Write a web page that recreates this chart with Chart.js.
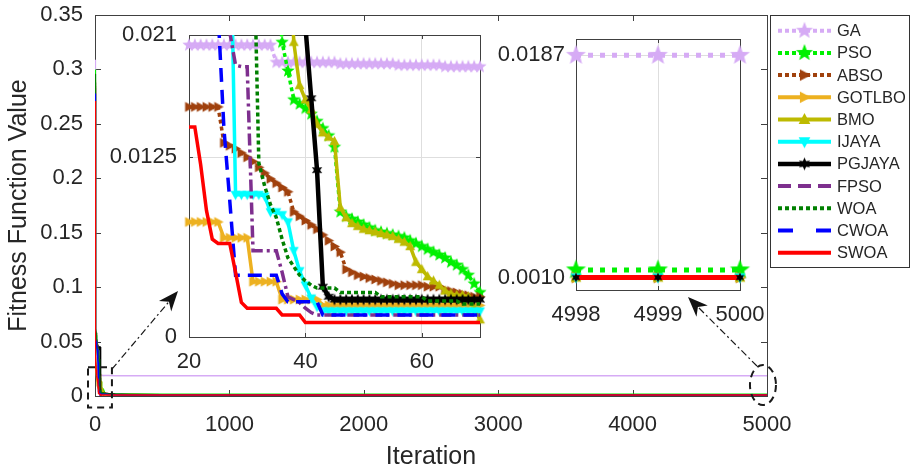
<!DOCTYPE html>
<html>
<head>
<meta charset="utf-8">
<title>Convergence curves</title>
<script src="https://cdn.jsdelivr.net/npm/chart.js@4.4.1/dist/chart.umd.min.js"></script>
<style>
  html, body { margin: 0; padding: 0; background: #fff; }
  #wrap { position: relative; width: 912px; height: 472px; overflow: hidden; }
  #wrap canvas { position: absolute; }
  #mainChart { left: 0; top: 0; }
  #zoomStart { left: 100px; top: 20px; }
  #zoomEnd { left: 480px; top: 25px; }
</style>
</head>
<body>
<div id="wrap">
  <canvas id="mainChart" width="912" height="472"></canvas>
  <canvas id="zoomStart" width="400" height="370"></canvas>
  <canvas id="zoomEnd" width="300" height="320"></canvas>
</div>
<script>
/* ---------------------------------------------------
    Convergence curves: fitness vs iteration
---------------------------------------------------*/
const FONT = "'Liberation Sans', Arial, Helvetica, sans-serif";
const INK = '#262626';

const iterations = [0, 1, 2, 3, 5, 8, 12, 16,
  20, 21, 22, 23, 24, 25, 26, 27, 28, 29,
  30, 31, 32, 33, 34, 35, 36, 37, 38, 39,
  40, 41, 42, 43, 44, 45, 46, 47, 48, 49,
  50, 51, 52, 53, 54, 55, 56, 57, 58, 59,
  60, 61, 62, 63, 64, 65, 66, 67, 68, 69,
  70, 80, 100, 150, 250, 500, 1000, 2000, 4998, 4999, 5000];

const seriesNames = ['GA', 'PSO', 'ABSO', 'GOTLBO', 'BMO', 'IJAYA', 'PGJAYA', 'FPSO', 'WOA', 'CWOA', 'SWOA'];

const gaFit = [0.309, 0.21, 0.12, 0.075, 0.05, 0.036, 0.027, 0.022,
  0.0203, 0.0203, 0.0203, 0.0203, 0.0203, 0.0203, 0.0203, 0.0203, 0.0203, 0.0203,
  0.0203, 0.0203, 0.0203, 0.0203, 0.0203, 0.0191, 0.0191, 0.0191, 0.0191, 0.0191,
  0.0191, 0.0191, 0.0191, 0.0191, 0.0191, 0.0191, 0.0190, 0.0190, 0.0190, 0.0190,
  0.0190, 0.0190, 0.0190, 0.0190, 0.0190, 0.0190, 0.0189, 0.0189, 0.0189, 0.0189,
  0.0189, 0.0189, 0.0189, 0.0189, 0.0188, 0.0188, 0.0188, 0.0188, 0.0188, 0.0188,
  0.0188, 0.0188, 0.0188, 0.0187, 0.0187, 0.0187, 0.0187, 0.0187, 0.0187, 0.0187, 0.0187];

const psoFit = [0.300, 0.19, 0.11, 0.07, 0.055, 0.05, 0.045, 0.04,
  0.038, 0.037, 0.036, 0.035, 0.034, 0.033, 0.032, 0.031, 0.030, 0.030,
  0.029, 0.029, 0.028, 0.028, 0.027, 0.026, 0.0205, 0.0185, 0.0165, 0.0162,
  0.0159, 0.0155, 0.0150, 0.0145, 0.0140, 0.0132, 0.0087, 0.0084, 0.0082, 0.0080,
  0.0078, 0.0076, 0.0074, 0.0073, 0.0072, 0.0071, 0.0070, 0.0069, 0.0067, 0.0065,
  0.0063, 0.0061, 0.0059, 0.0057, 0.0055, 0.0052, 0.0050, 0.0047, 0.0043, 0.0037,
  0.0031, 0.0024, 0.0021, 0.0019, 0.0018, 0.0017, 0.0016, 0.0016, 0.0016, 0.0016, 0.0016];

const absoFit = [0.285, 0.17, 0.09, 0.055, 0.038, 0.028, 0.021, 0.018,
  0.0160, 0.0160, 0.0160, 0.0160, 0.0160, 0.0160, 0.0135, 0.0133, 0.0131, 0.0128,
  0.0125, 0.0122, 0.0118, 0.0114, 0.0110, 0.0107, 0.0104, 0.0101, 0.0087, 0.0084,
  0.0081, 0.0078, 0.0075, 0.0071, 0.0067, 0.0063, 0.0059, 0.0047, 0.0045, 0.0043,
  0.0042, 0.0041, 0.0040, 0.0039, 0.0038, 0.0037, 0.0036, 0.0036, 0.0036, 0.0036,
  0.0036, 0.0035, 0.0035, 0.0035, 0.0033, 0.0032, 0.0031, 0.0030, 0.0029, 0.0028,
  0.0028, 0.0026, 0.0022, 0.0017, 0.0014, 0.0012, 0.0011, 0.0010, 0.0010, 0.0010, 0.0010];

const gotlboFit = [0.280, 0.16, 0.08, 0.045, 0.030, 0.022, 0.017, 0.0095,
  0.0080, 0.0080, 0.0080, 0.0080, 0.0080, 0.0080, 0.0069, 0.0069, 0.0069, 0.0069,
  0.0069, 0.00385, 0.00385, 0.00385, 0.00385, 0.00385, 0.0026, 0.0026, 0.0026, 0.0026,
  0.0026, 0.0026, 0.0026, 0.0022, 0.0022, 0.0022, 0.0022, 0.0022, 0.0022, 0.0022,
  0.0022, 0.0022, 0.0022, 0.0022, 0.0022, 0.0022, 0.0022, 0.0022, 0.0022, 0.0022,
  0.0022, 0.0022, 0.0022, 0.0022, 0.0022, 0.0022, 0.0022, 0.0022, 0.0022, 0.0022,
  0.0022, 0.0020, 0.0017, 0.0014, 0.0012, 0.0011, 0.0010, 0.0010, 0.0010, 0.0010, 0.0010];

const bmoFit = [0.290, 0.20, 0.12, 0.075, 0.060, 0.056, 0.052, 0.048,
  0.047, 0.046, 0.045, 0.044, 0.043, 0.042, 0.041, 0.040, 0.039, 0.038,
  0.037, 0.036, 0.035, 0.034, 0.033, 0.032, 0.031, 0.030, 0.0205, 0.0175,
  0.0165, 0.0158, 0.0148, 0.0142, 0.0139, 0.0136, 0.0090, 0.0083, 0.0079, 0.0077,
  0.0075, 0.0074, 0.0073, 0.0072, 0.0071, 0.0070, 0.0068, 0.0066, 0.0063, 0.0052,
  0.0047, 0.0042, 0.0039, 0.0036, 0.0032, 0.0030, 0.0029, 0.0029, 0.0028, 0.0020,
  0.0012, 0.0011, 0.0010, 0.0010, 0.0010, 0.0010, 0.0010, 0.0010, 0.0010, 0.0010, 0.0010];

const ijayaFit = [0.275, 0.18, 0.10, 0.065, 0.058, 0.055, 0.050, 0.046,
  0.046, 0.045, 0.044, 0.043, 0.042, 0.040, 0.038, 0.032, 0.0099, 0.0099,
  0.0099, 0.0099, 0.0099, 0.0098, 0.0087, 0.0087, 0.0085, 0.0080, 0.0060, 0.0046,
  0.0036, 0.0027, 0.0021, 0.0018, 0.0018, 0.0018, 0.0018, 0.0018, 0.0018, 0.0018,
  0.0018, 0.0018, 0.0018, 0.0018, 0.0018, 0.0018, 0.0018, 0.0018, 0.0018, 0.0018,
  0.0018, 0.0018, 0.0018, 0.0018, 0.0018, 0.0018, 0.0018, 0.0018, 0.0018, 0.0018,
  0.0018, 0.0017, 0.0015, 0.0013, 0.0011, 0.0010, 0.0010, 0.0010, 0.0010, 0.0010, 0.0010];

const pgjayaFit = [0.288, 0.19, 0.11, 0.07, 0.06, 0.052, 0.048, 0.046,
  0.046, 0.046, 0.046, 0.046, 0.046, 0.046, 0.046, 0.046, 0.046, 0.045,
  0.045, 0.045, 0.045, 0.045, 0.045, 0.045, 0.045, 0.045, 0.045, 0.045,
  0.0216, 0.0166, 0.0116, 0.0035, 0.0028, 0.0026, 0.0026, 0.0026, 0.0026, 0.0026,
  0.0026, 0.0026, 0.0026, 0.0026, 0.0026, 0.0026, 0.0026, 0.0026, 0.0026, 0.0026,
  0.0026, 0.0026, 0.0026, 0.0026, 0.0026, 0.0026, 0.0026, 0.0026, 0.0026, 0.0026,
  0.0026, 0.0024, 0.0020, 0.0015, 0.0012, 0.0011, 0.0010, 0.0010, 0.0010, 0.0010, 0.0010];

const fpsoFit = [0.283, 0.17, 0.095, 0.062, 0.056, 0.052, 0.050, 0.047,
  0.045, 0.044, 0.043, 0.042, 0.041, 0.039, 0.034, 0.0212, 0.0189, 0.0188,
  0.0188, 0.0060, 0.0060, 0.0060, 0.0060, 0.0060, 0.0045, 0.0028, 0.0026, 0.0024,
  0.0020, 0.0017, 0.00153, 0.00153, 0.00153, 0.00153, 0.00153, 0.00153, 0.00153, 0.00153,
  0.00153, 0.00153, 0.00153, 0.00153, 0.00153, 0.00153, 0.00153, 0.00153, 0.00153, 0.00153,
  0.00153, 0.00153, 0.00153, 0.00153, 0.00153, 0.00153, 0.00153, 0.00153, 0.00153, 0.00153,
  0.00153, 0.0015, 0.0013, 0.0012, 0.0011, 0.0010, 0.0010, 0.0010, 0.0010, 0.0010, 0.0010];

const woaFit = [0.296, 0.20, 0.11, 0.07, 0.062, 0.058, 0.052, 0.045,
  0.044, 0.043, 0.042, 0.041, 0.040, 0.039, 0.038, 0.037, 0.036, 0.035,
  0.034, 0.030, 0.0121, 0.0105, 0.0092, 0.0083, 0.0068, 0.0055, 0.0049, 0.0043,
  0.0039, 0.0036, 0.0034, 0.0034, 0.0034, 0.0034, 0.0031, 0.0031, 0.0031, 0.0031,
  0.0031, 0.0031, 0.0031, 0.0028, 0.0028, 0.0028, 0.0028, 0.0028, 0.0028, 0.0028,
  0.0028, 0.0025, 0.0025, 0.0025, 0.0025, 0.0025, 0.0025, 0.0023, 0.0023, 0.0023,
  0.0023, 0.0021, 0.0018, 0.0015, 0.0013, 0.0011, 0.0010, 0.0010, 0.0010, 0.0010, 0.0010];

const cwoaFit = [0.278, 0.16, 0.085, 0.058, 0.052, 0.050, 0.047, 0.043,
  0.040, 0.037, 0.034, 0.031, 0.027, 0.0225, 0.0145, 0.0095, 0.0043, 0.0043,
  0.0043, 0.0043, 0.0043, 0.0043, 0.0043, 0.0043, 0.0030, 0.00245, 0.00245, 0.00245,
  0.00245, 0.00245, 0.00245, 0.00153, 0.00153, 0.00153, 0.00153, 0.00153, 0.00153, 0.00153,
  0.00153, 0.00153, 0.00153, 0.00153, 0.00153, 0.00153, 0.00153, 0.00153, 0.00153, 0.00153,
  0.00153, 0.00153, 0.00153, 0.00153, 0.00153, 0.00153, 0.00153, 0.00153, 0.00153, 0.00153,
  0.00153, 0.0015, 0.0013, 0.0011, 0.0010, 0.0010, 0.0010, 0.0010, 0.0010, 0.0010, 0.0010];

const swoaFit = [0.271, 0.15, 0.08, 0.05, 0.032, 0.024, 0.019, 0.016,
  0.0146, 0.0146, 0.0120, 0.0088, 0.0068, 0.0065, 0.0065, 0.0065, 0.0045, 0.0024,
  0.0020, 0.0020, 0.0020, 0.0020, 0.0020, 0.0020, 0.00153, 0.00153, 0.00153, 0.00153,
  0.0010, 0.0010, 0.0010, 0.0010, 0.0010, 0.0010, 0.0010, 0.0010, 0.0010, 0.0010,
  0.0010, 0.0010, 0.0010, 0.0010, 0.0010, 0.0010, 0.0010, 0.0010, 0.0010, 0.0010,
  0.0010, 0.0010, 0.0010, 0.0010, 0.0010, 0.0010, 0.0010, 0.0010, 0.0010, 0.0010,
  0.0010, 0.0010, 0.0010, 0.0010, 0.0010, 0.0010, 0.0010, 0.0010, 0.0010, 0.0010, 0.0010];

const fitness = [gaFit, psoFit, absoFit, gotlboFit, bmoFit, ijayaFit, pgjayaFit, fpsoFit, woaFit, cwoaFit, swoaFit];

// tick sets
const mainXTicks = [0, 1000, 2000, 3000, 4000, 5000];
const startXTicks = [20, 40, 60];
const startYTicks = [0, 0.0125, 0.021];
const endXTicks = [4998, 4999, 5000];
const endYTicks = [0.0010, 0.0187];

/* ---------------------------------------------------
    Line styles and marker glyphs
---------------------------------------------------*/
const styles = [
  { color: '#D6ABF5', dash: [4, 3], endDash: [5, 7], marker: 'pentagram' },
  { color: '#00F000', dash: [4, 3], endDash: [5, 7], marker: 'pentagram' },
  { color: '#A0410D', dash: [4, 3], marker: 'right' },
  { color: '#EDB120', dash: [], marker: 'right' },
  { color: '#BDBA00', dash: [], marker: 'up' },
  { color: '#00FFFF', dash: [], marker: 'down' },
  { color: '#000000', dash: [], marker: 'hexagram', width: 4.5 },
  { color: '#7E2F8E', dash: [12, 4, 3, 4], legendDash: [13, 7], marker: null },
  { color: '#008000', dash: [4, 3], marker: null },
  { color: '#0000FF', dash: [14, 8], legendDash: [15, 23], marker: null },
  { color: '#FF0000', dash: [], marker: null }
];

function markerCanvas(kind, color, r) {
  const size = Math.ceil(r * 2 + 2);
  const c = document.createElement('canvas');
  c.width = c.height = size;
  const g = c.getContext('2d');
  g.translate(size / 2, size / 2);
  g.fillStyle = color;
  g.beginPath();
  if (kind === 'pentagram' || kind === 'hexagram') {
    const n = kind === 'pentagram' ? 5 : 6;
    const inner = kind === 'pentagram' ? r * 0.42 : r * 0.5;
    for (let i = 0; i < n * 2; i++) {
      const rr = i % 2 ? inner : r;
      const a = -Math.PI / 2 + i * Math.PI / n;
      g.lineTo(rr * Math.cos(a), rr * Math.sin(a));
    }
  } else {
    g.rotate({ up: 0, right: Math.PI / 2, down: Math.PI }[kind]);
    g.moveTo(0, -r);
    g.lineTo(r * 0.9, r * 0.7);
    g.lineTo(-r * 0.9, r * 0.7);
  }
  g.closePath();
  g.fill();
  return c;
}

const markerSize = {
  start: { pentagram: 7, hexagram: 6, right: 5.5, up: 5.5, down: 5.5 },
  end: { pentagram: 10.5, hexagram: 5, right: 6, up: 6, down: 6 },
  legend: { pentagram: 9, hexagram: 6.5, right: 6.5, up: 6.5, down: 6.5 }
};

function points(values, from, to) {
  const pts = [];
  iterations.forEach((it, i) => {
    if (it >= from && it <= to) pts.push({ x: it, y: values[i] });
  });
  return pts;
}

/* ---------------------------------------------------
    Plugins: MATLAB-like box with inward ticks, legend, callouts
---------------------------------------------------*/
const frame = {
  id: 'frame',
  beforeDraw(chart, args, opts) {
    if (!opts.fill) return;
    const { ctx, chartArea: a } = chart;
    ctx.save();
    ctx.fillStyle = opts.fill;
    ctx.fillRect(a.left, a.top, a.right - a.left, a.bottom - a.top);
    ctx.restore();
  },
  beforeDatasetsDraw(chart, args, opts) {
    const { ctx, chartArea: a, scales } = chart;
    const len = opts.tickLength;
    ctx.save();
    ctx.strokeStyle = opts.color;
    ctx.lineWidth = 1;
    ctx.beginPath();
    scales.x.ticks.forEach(t => {
      const px = Math.round(scales.x.getPixelForValue(t.value)) + 0.5;
      ctx.moveTo(px, a.bottom); ctx.lineTo(px, a.bottom - len);
      ctx.moveTo(px, a.top); ctx.lineTo(px, a.top + len);
    });
    scales.y.ticks.forEach(t => {
      const py = Math.round(scales.y.getPixelForValue(t.value)) + 0.5;
      ctx.moveTo(a.left, py); ctx.lineTo(a.left + len, py);
      ctx.moveTo(a.right, py); ctx.lineTo(a.right - len, py);
    });
    ctx.stroke();
    ctx.strokeRect(Math.round(a.left) + 0.5, Math.round(a.top) + 0.5,
      Math.round(a.right - a.left), Math.round(a.bottom - a.top));
    ctx.restore();
  }
};

function arrow(ctx, x0, y0, x1, y1) {
  const ang = Math.atan2(y1 - y0, x1 - x0);
  const head = 20;
  ctx.save();
  ctx.strokeStyle = '#1a1a1a';
  ctx.lineWidth = 1.2;
  ctx.setLineDash([7, 3, 2, 3]);
  ctx.beginPath();
  ctx.moveTo(x0, y0);
  ctx.lineTo(x1 - head * 0.7 * Math.cos(ang), y1 - head * 0.7 * Math.sin(ang));
  ctx.stroke();
  ctx.setLineDash([]);
  ctx.translate(x1, y1);
  ctx.rotate(ang);
  ctx.beginPath();
  ctx.moveTo(0, 0);
  ctx.lineTo(-head, -8);
  ctx.lineTo(-head * 0.7, 0);
  ctx.lineTo(-head, 8);
  ctx.closePath();
  ctx.fillStyle = '#111';
  ctx.fill();
  ctx.restore();
}

const callouts = {
  id: 'callouts',
  afterDraw(chart) {
    const { ctx, scales: { x, y } } = chart;
    ctx.save();
    // dashed box around the first iterations
    const bx0 = x.getPixelForValue(-52), bx1 = x.getPixelForValue(126);
    const by0 = y.getPixelForValue(0.0265), by1 = y.getPixelForValue(-0.0105);
    ctx.strokeStyle = '#1a1a1a';
    ctx.lineWidth = 2;
    ctx.setLineDash([7, 5]);
    ctx.strokeRect(bx0, by0, bx1 - bx0, by1 - by0);
    // dashed ellipse around the last iterations
    const ex = x.getPixelForValue(4970), ey = y.getPixelForValue(0.0101);
    ctx.beginPath();
    ctx.ellipse(ex, ey, 13, 20, 0, 0, Math.PI * 2);
    ctx.stroke();
    ctx.restore();
    arrow(ctx, bx1, by0 + 2, 178, 291);
    arrow(ctx, ex - 6, ey - 19, 688, 297);

    // legend
    const left = 770, top = 15, right = 909, bottom = 267;
    ctx.save();
    ctx.fillStyle = '#fff';
    ctx.fillRect(left, top, right - left, bottom - top);
    ctx.strokeStyle = '#333';
    ctx.lineWidth = 1;
    ctx.strokeRect(left + 0.5, top + 0.5, right - left, bottom - top);
    ctx.font = '16.5px ' + FONT;
    ctx.textBaseline = 'middle';
    seriesNames.forEach((name, i) => {
      const s = styles[i];
      const ry = 30.7 + i * 22.2;
      ctx.strokeStyle = s.color;
      ctx.lineWidth = s.width || 4;
      ctx.setLineDash(s.legendDash || s.dash);
      ctx.beginPath();
      ctx.moveTo(778, ry);
      ctx.lineTo(831, ry);
      ctx.stroke();
      if (s.marker) {
        const m = markerCanvas(s.marker, s.color, markerSize.legend[s.marker]);
        ctx.drawImage(m, 804.5 - m.width / 2, ry - m.height / 2);
      }
      ctx.fillStyle = INK;
      ctx.fillText(name, 837, ry + 1);
    });
    ctx.restore();
  }
};

/* ---------------------------------------------------
    Shared scale helpers
---------------------------------------------------*/
function tickFont(size) {
  return { family: FONT, size: size };
}

function fixedTicks(list) {
  return scale => { scale.ticks = list.map(v => ({ value: v })); };
}

// fixed axis box sizes; label overflow must not move the plot area
function fixedHeight(h) {
  return s => { s.height = h; s.paddingLeft = 0; s.paddingRight = 0; };
}
function fixedWidth(w) {
  return s => { s.width = w; s.paddingTop = 0; s.paddingBottom = 0; };
}

const baseOptions = {
  responsive: false,
  animation: false,
  events: [],
  plugins: { legend: { display: false }, tooltip: { enabled: false } }
};

/* ---------------------------------------------------
    1. Full run (0 - 5000)
---------------------------------------------------*/
new Chart(document.getElementById('mainChart'), {
  type: 'line',
  data: {
    datasets: seriesNames.map((name, i) => ({
      label: name,
      data: points(fitness[i], 0, 5000),
      borderColor: styles[i].color,
      borderWidth: 1.5,
      pointRadius: 0,
      tension: 0,
      order: -i
    }))
  },
  options: {
    ...baseOptions,
    layout: { padding: { top: 15, right: 145, left: 0, bottom: 0 } },
    scales: {
      x: {
        type: 'linear', min: 0, max: 5000,
        afterBuildTicks: fixedTicks(mainXTicks),
        afterFit: fixedHeight(76),
        grid: { display: false, drawTicks: false },
        border: { display: false },
        ticks: { font: tickFont(22), color: INK, padding: 16, maxRotation: 0, autoSkip: false,
          callback: v => String(v) },
        title: { display: true, text: 'Iteration', color: INK, padding: { top: 4, bottom: 0 },
          font: { family: FONT, size: 25 } }
      },
      y: {
        min: 0, max: 0.35,
        ticks: { stepSize: 0.05, font: tickFont(22), color: INK, padding: 12,
          callback: v => String(Number(v.toFixed(3))) },
        afterFit: fixedWidth(95),
        grid: { display: false, drawTicks: false },
        border: { display: false },
        title: { display: true, text: 'Fitness Function Value', color: INK, font: { family: FONT, size: 25 } }
      }
    },
    plugins: { ...baseOptions.plugins, frame: { tickLength: 6, color: '#404040' } }
  },
  plugins: [frame, callouts]
});

/* ---------------------------------------------------
    2. Zoom on iterations 20 - 70
---------------------------------------------------*/
new Chart(document.getElementById('zoomStart'), {
  type: 'line',
  data: {
    datasets: seriesNames.map((name, i) => {
      const s = styles[i];
      return {
        label: name,
        data: points(fitness[i], 20, 70),
        borderColor: s.color,
        borderWidth: s.width || 3.5,
        borderDash: s.dash,
        pointStyle: s.marker ? markerCanvas(s.marker, s.color, markerSize.start[s.marker]) : 'circle',
        pointRadius: s.marker ? markerSize.start[s.marker] : 0,
        pointBorderWidth: 0,
        tension: 0,
        clip: { left: 10, top: 0, right: 10, bottom: 10 },
        order: -i
      };
    })
  },
  options: {
    ...baseOptions,
    layout: { padding: { top: 15, right: 20, left: 0, bottom: 0 } },
    scales: {
      x: {
        type: 'linear', min: 20, max: 70,
        afterBuildTicks: fixedTicks(startXTicks),
        afterFit: fixedHeight(53),
        grid: { color: '#dedede', drawTicks: false },
        border: { display: false },
        ticks: { font: tickFont(22), color: INK, padding: 12, maxRotation: 0, autoSkip: false,
          callback: v => String(v) }
      },
      y: {
        min: 0, max: 0.021,
        afterBuildTicks: fixedTicks(startYTicks),
        afterFit: fixedWidth(89),
        grid: { color: '#dedede', drawTicks: false },
        border: { display: false },
        ticks: { font: tickFont(22), color: INK, padding: 12, callback: v => String(v) }
      }
    },
    plugins: { ...baseOptions.plugins, frame: { tickLength: 4, color: '#404040', fill: '#fff' } }
  },
  plugins: [frame]
});

/* ---------------------------------------------------
    3. Zoom on the last iterations (4998 - 5000)
---------------------------------------------------*/
const endSets = seriesNames.map((name, i) => {
  const s = styles[i];
  return {
    label: name,
    data: points(fitness[i], 4998, 5000),
    borderColor: s.color,
    borderWidth: 5,
    borderDash: s.endDash || s.dash,
    pointStyle: s.marker ? markerCanvas(s.marker, s.color, markerSize.end[s.marker]) : 'circle',
    pointRadius: s.marker ? markerSize.end[s.marker] : 0,
    pointBorderWidth: 0,
    tension: 0,
    clip: false,
    order: -i
  };
});
// PGJAYA markers sit on top of the red line
endSets[6].showLine = false;
endSets[6].order = -20;

new Chart(document.getElementById('zoomEnd'), {
  type: 'line',
  data: { datasets: endSets },
  options: {
    ...baseOptions,
    layout: { padding: { top: 14, right: 40, left: 0, bottom: 0 } },
    scales: {
      x: {
        type: 'linear', min: 4998, max: 5000,
        afterBuildTicks: fixedTicks(endXTicks),
        afterFit: fixedHeight(55),
        grid: { color: '#dedede', drawTicks: false },
        border: { display: false },
        ticks: { font: tickFont(22), color: INK, padding: 12, maxRotation: 0, autoSkip: false,
          callback: v => String(v) }
      },
      y: {
        min: 0, max: 0.02,
        afterBuildTicks: fixedTicks(endYTicks),
        afterFit: fixedWidth(96),
        grid: { color: '#dedede', drawTicks: false },
        border: { display: false },
        ticks: { font: tickFont(22), color: INK, padding: 11, callback: v => v.toFixed(4) }
      }
    },
    plugins: { ...baseOptions.plugins, frame: { tickLength: 4, color: '#404040', fill: '#fff' } }
  },
  plugins: [frame]
});
</script>
</body>
</html>
